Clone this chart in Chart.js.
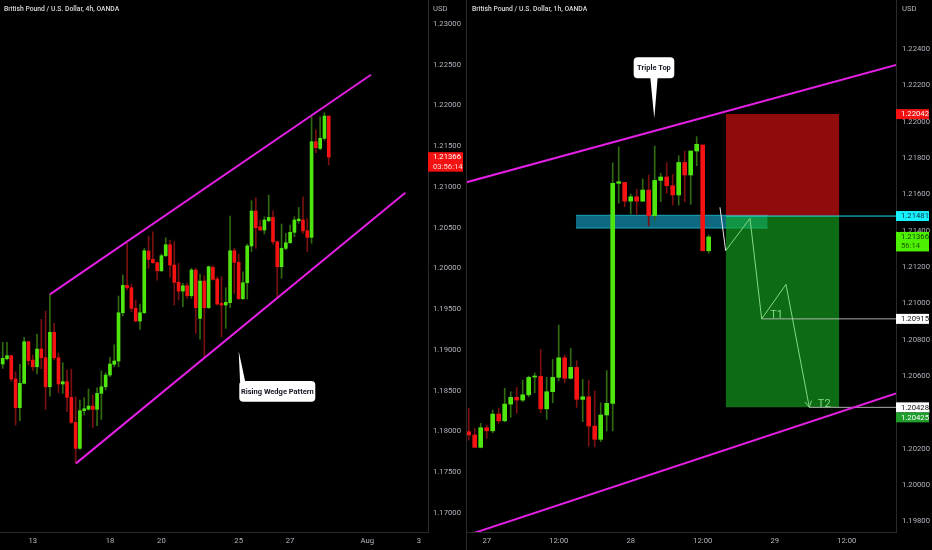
<!DOCTYPE html>
<html><head><meta charset="utf-8">
<script src="https://cdn.jsdelivr.net/npm/chart.js@4.4.0/dist/chart.umd.min.js"></script>
<style>
html,body{margin:0;padding:0;background:#000;width:932px;height:550px;overflow:hidden;}
#L{position:absolute;left:0;top:0;width:466px;height:550px}
#R{position:absolute;left:467px;top:0;width:465px;height:550px}
.sep{position:absolute;left:466px;top:0;width:1px;height:550px;background:#2a2a2a}
.hdr{position:absolute;top:5px;font:500 6.8px Roboto,sans-serif;color:#d8d9dd;white-space:nowrap}
.usd{position:absolute;top:4px;font:7.7px Roboto,sans-serif;color:#b2b5be}
</style></head>
<body>
<div id="L"><canvas id="cL" width="466" height="550"></canvas></div>
<div id="R"><canvas id="cR" width="465" height="550"></canvas></div>
<div class="sep"></div>
<div class="hdr" style="left:4px">British Pound / U.S. Dollar, 4h, OANDA</div>
<div class="usd" style="left:433px">USD</div>
<div class="hdr" style="left:472px">British Pound / U.S. Dollar, 1h, OANDA</div>
<div class="usd" style="left:902px">USD</div>
<script>
// ---------- LEFT PANEL (4h) ----------
const leftOpen = [1.18828,1.18893,1.18930,1.18644,1.18292,1.18591,1.19102,1.18877,1.18795,1.19012,1.18905,1.18549,1.19217,1.18905,1.18583,1.18611,1.18419,1.18112,1.17793,1.18255,1.18272,1.18312,1.18272,1.18468,1.18549,1.18693,1.18824,1.18865,
 1.19457,1.19793,1.19764,1.19511,1.19355,1.19457,1.20214,1.20112,1.20071,1.19973,1.20157,1.20292,1.20042,1.19830,1.19723,1.19788,1.19666,1.19981,1.19388,1.19846,1.19519,1.20014,1.19871,
 1.19572,1.19552,1.19581,1.20218,1.20076,1.19629,1.19825,1.20276,1.20705,1.20512,1.20472,1.20586,1.20627,1.20328,1.20022,1.20247,1.20316,1.20444,1.20586,1.20595,1.20463,
 1.20382,1.21556,1.21474,1.21597,1.21871];
const leftHigh = [1.19094,1.19094,1.18935,1.18733,1.18824,1.19155,1.19110,1.18938,1.19196,1.19376,1.19478,1.19683,1.19327,1.18959,1.18844,1.18754,1.18766,1.18427,1.18386,1.18415,1.18521,1.18447,1.18537,1.18746,1.18721,1.18910,1.19065,1.19662,
 1.19920,1.20309,1.19809,1.19613,1.19564,1.20247,1.20398,1.20451,1.20083,1.20178,1.20377,1.20349,1.20328,1.20063,1.19818,1.19818,1.20002,1.20002,1.19928,1.19911,1.20030,1.20034,1.19899,
 1.19899,1.19764,1.20644,1.20247,1.20178,1.19960,1.20300,1.20831,1.20868,1.20595,1.20635,1.20901,1.20709,1.20337,1.20546,1.20431,1.20533,1.20635,1.20750,1.20880,1.20615,
 1.21862,1.21699,1.21862,1.21912,1.21871];
const leftLow = [1.18775,1.18877,1.18611,1.18079,1.18132,1.18583,1.18815,1.18746,1.18705,1.18771,1.18272,1.18435,1.18877,1.18476,1.18468,1.18242,1.18100,1.17609,1.17781,1.18202,1.18263,1.18050,1.18071,1.18149,1.18509,1.18672,1.18795,1.18795,
 1.19417,1.19736,1.19470,1.19347,1.19253,1.19449,1.20002,1.20063,1.19858,1.19960,1.20145,1.19892,1.19552,1.19613,1.19531,1.19634,1.19634,1.19204,1.19134,1.18917,1.19511,1.19858,1.19552,
 1.19163,1.19266,1.19519,1.19695,1.19622,1.19622,1.19625,1.20206,1.20247,1.20463,1.20423,1.20574,1.20300,1.19646,1.19879,1.20227,1.20309,1.20390,1.20554,1.20431,1.20206,
 1.20309,1.21420,1.21454,1.21576,1.21270];
const leftClose = [1.18898,1.18930,1.18644,1.18292,1.18591,1.19102,1.18868,1.18795,1.19012,1.18905,1.18549,1.19217,1.18905,1.18583,1.18611,1.18419,1.18112,1.17793,1.18255,1.18280,1.18312,1.18272,1.18468,1.18549,1.18693,1.18828,1.18865,1.19457,
 1.19793,1.19764,1.19511,1.19355,1.19457,1.20218,1.20112,1.20071,1.19973,1.20157,1.20292,1.20042,1.19830,1.19723,1.19788,1.19666,1.19981,1.19519,1.19846,1.19519,1.20022,1.19867,1.19564,
 1.19552,1.19585,1.20218,1.20076,1.19629,1.19825,1.20276,1.20705,1.20500,1.20472,1.20595,1.20627,1.20328,1.20022,1.20247,1.20316,1.20444,1.20595,1.20607,1.20463,1.20382,
 1.21556,1.21482,1.21597,1.21871,1.21366];
const leftDayTicks = [7,25,37,55,67,85,97];
const leftDayLabels = ['13','18','20','25','27','Aug','3'];
const leftPriceTicks = [1.17,1.175,1.18,1.185,1.19,1.195,1.20,1.205,1.21,1.215,1.22,1.225,1.23];
const wedgeUpper = [[11,1.19683],[85.85,1.22377]];
const wedgeLower = [[17.09,1.17609],[93.85,1.20930]];
const wedgeCallout = [55.01,1.18987];
const leftTimer = '03:56:14';

// ---------- RIGHT PANEL (1h) ----------
const rightOpen = [1.20294,1.20276,1.20208,1.20316,1.20299,1.20391,1.20354,1.20446,1.20483,1.20468,
 1.20497,1.20595,1.20599,1.20420,1.20514,1.20593,1.20701,1.20588,1.20648,1.20472,
 1.20486,1.20325,1.20252,1.20386,1.20450,1.21661,1.21666,1.21563,1.21587,1.21563,
 1.21624,1.21483,1.21677,1.21696,1.21648,1.21597,1.21776,1.21707,1.21839,1.21872,1.21290];
const rightHigh = [1.20423,1.20312,1.20340,1.20331,1.20413,1.20423,1.20533,1.20514,1.20538,1.20578,
 1.20600,1.20618,1.20747,1.20593,1.20692,1.20881,1.20716,1.20753,1.20685,1.20582,
 1.20578,1.20518,1.20453,1.20630,1.21774,1.21862,1.21666,1.21602,1.21628,1.21685,
 1.21707,1.21866,1.21716,1.21776,1.21710,1.21813,1.21839,1.21839,1.21918,1.21872,1.21376];
const rightLow = [1.20248,1.20208,1.20205,1.20257,1.20288,1.20340,1.20349,1.20373,1.20395,1.20459,
 1.20486,1.20508,1.20398,1.20362,1.20453,1.20574,1.20563,1.20584,1.20428,1.20349,
 1.20215,1.20211,1.20239,1.20298,1.20299,1.21551,1.21532,1.21492,1.21490,1.21560,
 1.21426,1.21459,1.21560,1.21606,1.21541,1.21541,1.21560,1.21545,1.21758,1.21290,1.21276];
const rightClose = [1.20276,1.20208,1.20316,1.20299,1.20391,1.20354,1.20446,1.20483,1.20468,1.20497,
 1.20593,1.20599,1.20420,1.20514,1.20593,1.20701,1.20588,1.20648,1.20472,1.20486,
 1.20325,1.20252,1.20386,1.20450,1.21661,1.21670,1.21563,1.21587,1.21563,1.21624,
 1.21483,1.21677,1.21696,1.21648,1.21597,1.21776,1.21707,1.21839,1.21876,1.21290,1.21366];
const rightTimeTicks = [3,15,27,39,51,63];
const rightTimeLabels = ['27','12:00','28','12:00','29','12:00'];
const rightPriceTicks = [1.198,1.200,1.202,1.204,1.206,1.208,1.210,1.212,1.214,1.216,1.218,1.220,1.222,1.224];
const channelUpper = [[-0.45,1.21666],[71.22,1.22312]];
const channelLower = [[-0.45,1.19722],[71.22,1.20505]];
const stopBox = [42.83,61.77,1.22042,1.21481];      // x0,x1,top,bottom
const targetBox = [42.83,61.77,1.21481,1.20428];
const entryZone = [17.88,49.83,1.21485,1.21415];
const projectionPath = [[42.83,1.21290],[46.88,1.21468],[48.83,1.20915],[52.88,1.21105],[56.77,1.20428]];
const entryTick = [[41.88,1.21529],[42.83,1.21290]];
const target1 = [48.83,1.20915];
const target2 = [56.77,1.20428];
const tripleTopCallout = [30.93,1.22019];
const rightTagPrices = [1.22042,1.21481,1.21366,1.20915,1.20428,1.20425];
const rightTimer = '56:14';

// ---------- helpers ----------
const FONT = 'Roboto';
const UP = '#4fe60f', DOWN = '#f41212', UPW = '#2f6b10', DOWNW = '#7a1010';
const pts = a => a.map(p => ({x:p[0], y:p[1]}));

function candleSets(O,H,L,C,bodyW){
  const idx = O.map((_,i)=>i);
  const up = idx.map(i => C[i] >= O[i]);
  return [
    {type:'bar', data: idx.map(i=>({x:i,y:[L[i],H[i]]})), backgroundColor: idx.map(i=>up[i]?UPW:DOWNW),
     barThickness:1, grouped:false, order:2, borderWidth:0},
    {type:'bar', data: idx.map(i=>({x:i,y:[O[i],C[i]]})), backgroundColor: idx.map(i=>up[i]?UP:DOWN),
     barThickness:bodyW, minBarLength:1, grouped:false, order:1, borderWidth:0}
  ];
}
function lineSet(p, color, width, order){
  return {type:'line', data: pts(p), borderColor: color, borderWidth: width, pointRadius:0, fill:false, order, tension:0};
}
function boxSet(b, color, order){
  return {type:'line', data:[{x:b[0],y:b[2]},{x:b[1],y:b[2]}], borderColor:'rgba(0,0,0,0)', borderWidth:0,
          pointRadius:0, backgroundColor: color, fill:{value:b[3]}, order};
}
function noPad(s){ s.paddingTop = 0; s.paddingBottom = 0; s.paddingLeft = 0; s.paddingRight = 0; }
function xScale(min,max,vals,labels){
  return {type:'linear', min, max, offset:false,
    grid:{display:false, drawTicks:false}, border:{display:true, color:'#2a2a2a', width:1},
    afterBuildTicks: s => { s.ticks = vals.map(v=>({value:v})); },
    afterFit: s => { s.height = 18; noPad(s); },
    ticks:{autoSkip:false, maxRotation:0, padding:4, color:'#b2b5be', font:{family:FONT,size:7.7},
      callback:(v,i)=>labels[i]}};
}
function yScale(min,max,vals,w,pad){
  return {type:'linear', position:'right', min, max,
    grid:{display:false, drawTicks:false}, border:{display:true, color:'#2a2a2a', width:1},
    afterBuildTicks: s => { s.ticks = vals.map(v=>({value:v})); },
    afterFit: s => { s.width = w; noPad(s); },
    ticks:{autoSkip:false, padding:pad, color:'#b2b5be', font:{family:FONT,size:7.7}, callback:v=>Number(v).toFixed(5)}};
}
function roundRect(ctx,x,y,w,h,r){
  ctx.beginPath(); ctx.moveTo(x+r,y); ctx.lineTo(x+w-r,y); ctx.quadraticCurveTo(x+w,y,x+w,y+r);
  ctx.lineTo(x+w,y+h-r); ctx.quadraticCurveTo(x+w,y+h,x+w-r,y+h); ctx.lineTo(x+r,y+h);
  ctx.quadraticCurveTo(x,y+h,x,y+h-r); ctx.lineTo(x,y+r); ctx.quadraticCurveTo(x,y,x+r,y); ctx.closePath();
}
const overlay = {
  id:'overlay',
  afterDatasetsDraw(chart,_a,o){
    const ctx = chart.ctx, xs = chart.scales.x, ys = chart.scales.y;
    ctx.save();
    (o.callouts||[]).forEach(c=>{
      const tx = xs.getPixelForValue(c.at[0]), ty = ys.getPixelForValue(c.at[1]);
      const bx = tx + c.dx, by = ty + c.dy;
      const baseY = c.dy < 0 ? by + c.h - 1 : by + 1;
      ctx.fillStyle = '#ffffff';
      ctx.beginPath(); ctx.moveTo(tx,ty); ctx.lineTo(bx+c.tail[0],baseY); ctx.lineTo(bx+c.tail[1],baseY); ctx.closePath(); ctx.fill();
      roundRect(ctx,bx,by,c.w,c.h,4); ctx.fill();
      ctx.fillStyle = '#131722'; ctx.font = 'bold 7.5px '+FONT; ctx.textAlign='center'; ctx.textBaseline='middle';
      ctx.fillText(c.text, bx+c.w/2, by+c.h/2+0.5);
    });
    (o.labels||[]).forEach(t=>{
      const x = xs.getPixelForValue(t.at[0]), y = ys.getPixelForValue(t.at[1]);
      ctx.fillStyle = t.color; ctx.font = '11px '+FONT; ctx.textAlign='left'; ctx.textBaseline='alphabetic';
      ctx.fillText(t.text, x+8.5, y-0.5);
    });
    (o.arrows||[]).forEach(a=>{
      const p0 = a.path[a.path.length-2], p1 = a.path[a.path.length-1];
      const x0 = xs.getPixelForValue(p0[0]), y0 = ys.getPixelForValue(p0[1]);
      const x1 = xs.getPixelForValue(p1[0]), y1 = ys.getPixelForValue(p1[1]);
      const ang = Math.atan2(y1-y0,x1-x0), L = 7;
      ctx.strokeStyle = a.color; ctx.lineWidth = 1;
      ctx.beginPath();
      ctx.moveTo(x1 - L*Math.cos(ang-0.5), y1 - L*Math.sin(ang-0.5)); ctx.lineTo(x1,y1);
      ctx.lineTo(x1 - L*Math.cos(ang+0.5), y1 - L*Math.sin(ang+0.5));
      ctx.stroke();
    });
    ctx.restore();
  },
  afterDraw(chart,_a,o){
    const ctx = chart.ctx, ys = chart.scales.y;
    const x0 = ys.left, w = ys.width - 3;
    const tags = (o.tags||[]).map(t=>({...t, py: ys.getPixelForValue(t.price)})).sort((a,b)=>a.py-b.py);
    let prev = -1e9;
    ctx.save();
    tags.forEach(t=>{
      const h = t.sub ? 19.5 : 10;
      let top = t.py - 5;
      if (top < prev) top = prev;
      ctx.fillStyle = t.bg; ctx.fillRect(x0, top, w, h);
      ctx.fillStyle = t.fg; ctx.font = '7.7px '+FONT; ctx.textAlign='left'; ctx.textBaseline='middle';
      ctx.fillText(t.price.toFixed(5), x0+5, top+5.3);
      if (t.sub){ ctx.fillStyle = t.subFg || t.fg; ctx.fillText(t.sub, x0+5, top+14.5); }
      prev = top + h;
    });
    ctx.restore();
  }
};

const MAG = '#e21fe2';
const common = {responsive:false, animation:false, devicePixelRatio:1, layout:{padding:0}};

new Chart(document.getElementById('cL'), {
  type:'bar',
  data:{datasets:[
    ...candleSets(leftOpen,leftHigh,leftLow,leftClose,3),
    lineSet(wedgeUpper, MAG, 2, 0),
    lineSet(wedgeLower, MAG, 2, 0)
  ]},
  options:{...common,
    scales:{x: xScale(-0.63, 99.14, leftDayTicks, leftDayLabels),
            y: yScale(1.167669, 1.232945, leftPriceTicks, 38, 5)},
    plugins:{legend:{display:false}, tooltip:{enabled:false},
      overlay:{
        callouts:[{at:wedgeCallout, dx:0.6, dy:30, w:76, h:20.7, tail:[0.8,6], text:'Rising Wedge Pattern'}],
        tags:[{price:leftClose[leftClose.length-1], bg:'#f21010', fg:'#ffffff', sub:leftTimer, subFg:'#ffd6d6'}]
      }}
  },
  plugins:[overlay]
});

new Chart(document.getElementById('cR'), {
  type:'bar',
  data:{datasets:[
    boxSet(entryZone, 'rgba(20,160,197,0.65)', 12),
    lineSet([[entryZone[0],entryZone[3]],[entryZone[1],entryZone[3]]], '#1aa7b8', 1, 11),
    lineSet([[entryZone[0],entryZone[2]],[entryZone[1],entryZone[2]]], '#1aa7b8', 1, 11),
    boxSet(stopBox, 'rgba(240,20,20,0.6)', 10),
    boxSet(targetBox, 'rgba(20,178,32,0.6)', 10),
    lineSet([[targetBox[0],targetBox[2]],[71.22,targetBox[2]]], '#19e3ef', 1, 9),
    lineSet([target1,[71.22,target1[1]]], 'rgba(200,200,200,0.85)', 1, 8),
    lineSet([target2,[71.22,target2[1]]], 'rgba(200,200,200,0.85)', 1, 8),
    lineSet(projectionPath, '#84d884', 1, 7),
    lineSet(entryTick, '#e8e8e8', 1, 7),
    ...candleSets(rightOpen,rightHigh,rightLow,rightClose,4),
    lineSet(channelUpper, MAG, 2, 0),
    lineSet(channelLower, MAG, 2, 0)
  ]},
  options:{...common,
    scales:{x: xScale(-0.283, 71.217, rightTimeTicks, rightTimeLabels),
            y: yScale(1.19742, 1.22670, rightPriceTicks, 36, 6)},
    plugins:{legend:{display:false}, tooltip:{enabled:false},
      overlay:{
        callouts:[{at:tripleTopCallout, dx:-20.6, dy:-61, w:40.6, h:21, tail:[16.6,24], text:'Triple Top'}],
        labels:[{at:target1, text:'T1', color:'#84d884'},{at:target2, text:'T2', color:'#84d884'}],
        arrows:[{path:projectionPath, color:'#84d884'}],
        tags:[
          {price:rightTagPrices[0], bg:'#f21010', fg:'#ffffff'},
          {price:rightTagPrices[1], bg:'#19f0ff', fg:'#06343d'},
          {price:rightTagPrices[2], bg:'#4cf000', fg:'#123a00', sub:rightTimer, subFg:'#1f5a00'},
          {price:rightTagPrices[3], bg:'#ffffff', fg:'#111111'},
          {price:rightTagPrices[4], bg:'#ffffff', fg:'#111111'},
          {price:rightTagPrices[5], bg:'#1f9e2c', fg:'#ffffff'}
        ]
      }}
  },
  plugins:[overlay]
});
</script>
</body></html>
